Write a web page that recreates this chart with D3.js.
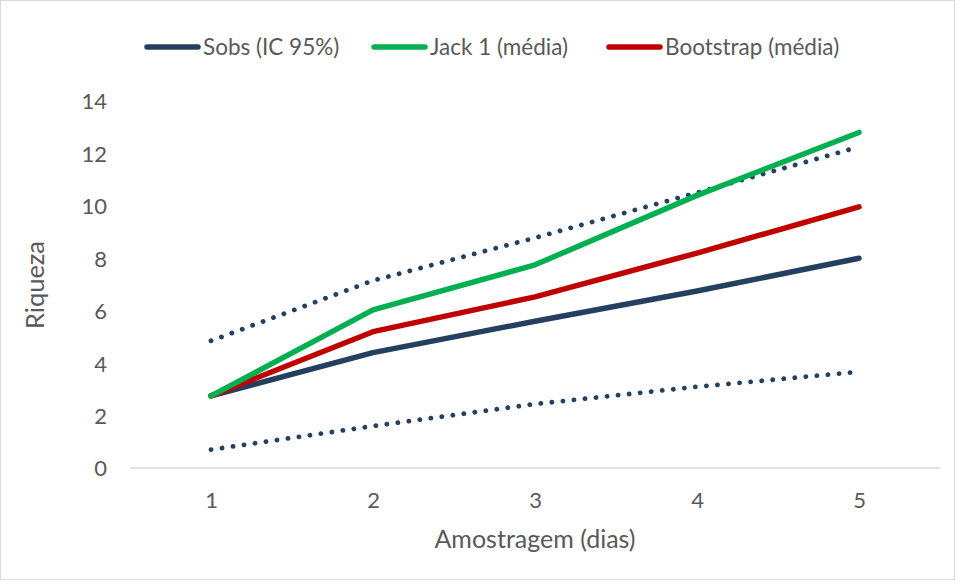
<!DOCTYPE html>
<html>
<head>
<meta charset="utf-8">
<style>
  body { margin: 0; background: #fff; }
  text { font-family: Lato, "Open Sans", sans-serif; fill: #595959; }
</style>
</head>
<body>
<div class="chart"></div>
<script src="https://d3js.org/d3.v7.min.js"></script>
<script>
var days = [1, 2, 3, 4, 5];
var sobs = [2.75, 4.4, 5.6, 6.75, 8.0];
var sobsUpper = [4.85, 7.15, 8.78, 10.5, 12.25];
var sobsLower = [0.7, 1.6, 2.44, 3.1, 3.67];
var jack1 = [2.75, 6.03, 7.75, 10.4, 12.8];
var bootstrap = [2.75, 5.2, 6.53, 8.2, 9.96];
var yTicks = [0, 2, 4, 6, 8, 10, 12, 14];

var W = 956, H = 581;
var svg = d3.select(".chart").append("svg")
  .attr("width", W)
  .attr("height", H);

svg.append("rect")
  .attr("x", 0.5).attr("y", 0.5)
  .attr("width", W - 2).attr("height", H - 2)
  .attr("fill", "#fff")
  .attr("stroke", "#d9d9d9");

var x = d3.scalePoint().domain(days).range([211, 859]);
var y = d3.scaleLinear().domain([0, 14]).range([468, 101]);

// baseline
svg.append("line")
  .attr("x1", 130).attr("x2", 940)
  .attr("y1", y(0)).attr("y2", y(0))
  .attr("stroke", "#d9d9d9")
  .attr("stroke-width", 1.5);

var yAxis = svg.append("g")
  .attr("transform", "translate(107,0)")
  .call(d3.axisLeft(y).tickValues(yTicks).tickSize(0).tickPadding(0));
yAxis.select(".domain").remove();
yAxis.selectAll("text").style("font-size", "22px").attr("dy", "0.36em");

var xAxis = svg.append("g")
  .attr("transform", "translate(0," + y(0) + ")")
  .call(d3.axisBottom(x).tickSize(0));
xAxis.select(".domain").remove();
xAxis.selectAll("text").style("font-size", "22px").attr("y", 40).attr("dy", 0);

svg.append("text")
  .attr("transform", "translate(44,285) rotate(-90)")
  .attr("text-anchor", "middle")
  .style("font-size", "25.5px")
  .text("Riqueza");

svg.append("text")
  .attr("x", 535).attr("y", 548)
  .attr("text-anchor", "middle")
  .style("font-size", "25px")
  .text("Amostragem (dias)");

var line = d3.line()
  .x(function(d, i) { return x(days[i]); })
  .y(function(d) { return y(d); });

var series = [
  { name: "upper", values: sobsUpper, color: "#243f60", dotted: true },
  { name: "lower", values: sobsLower, color: "#243f60", dotted: true },
  { name: "Sobs (IC 95%)", values: sobs, color: "#243f60" },
  { name: "Bootstrap (média)", values: bootstrap, color: "#c00000" },
  { name: "Jack 1 (média)", values: jack1, color: "#00b050" }
];

svg.selectAll(".series")
  .data(series)
  .enter().append("path")
  .attr("class", "series")
  .attr("d", function(d) { return line(d.values); })
  .attr("fill", "none")
  .attr("stroke", function(d) { return d.color; })
  .attr("stroke-width", function(d) { return d.dotted ? 4.8 : 5.5; })
  .attr("stroke-linecap", "round")
  .attr("stroke-linejoin", "round")
  .attr("stroke-dasharray", function(d) { return d.dotted ? "0.1,11" : null; });

// legend
var legend = [
  { name: "Sobs (IC 95%)", color: "#243f60", x: 147 },
  { name: "Jack 1 (média)", color: "#00b050", x: 374 },
  { name: "Bootstrap (média)", color: "#c00000", x: 609 }
];
var lg = svg.selectAll(".legend")
  .data(legend)
  .enter().append("g")
  .attr("class", "legend")
  .attr("transform", function(d) { return "translate(" + d.x + ",47)"; });
lg.append("line")
  .attr("x1", 0).attr("x2", 51)
  .attr("stroke", function(d) { return d.color; })
  .attr("stroke-width", 5.5)
  .attr("stroke-linecap", "round");
lg.append("text")
  .attr("x", 56)
  .attr("dy", "0.36em")
  .style("font-size", "22.5px")
  .text(function(d) { return d.name; });
</script>
</body>
</html>
